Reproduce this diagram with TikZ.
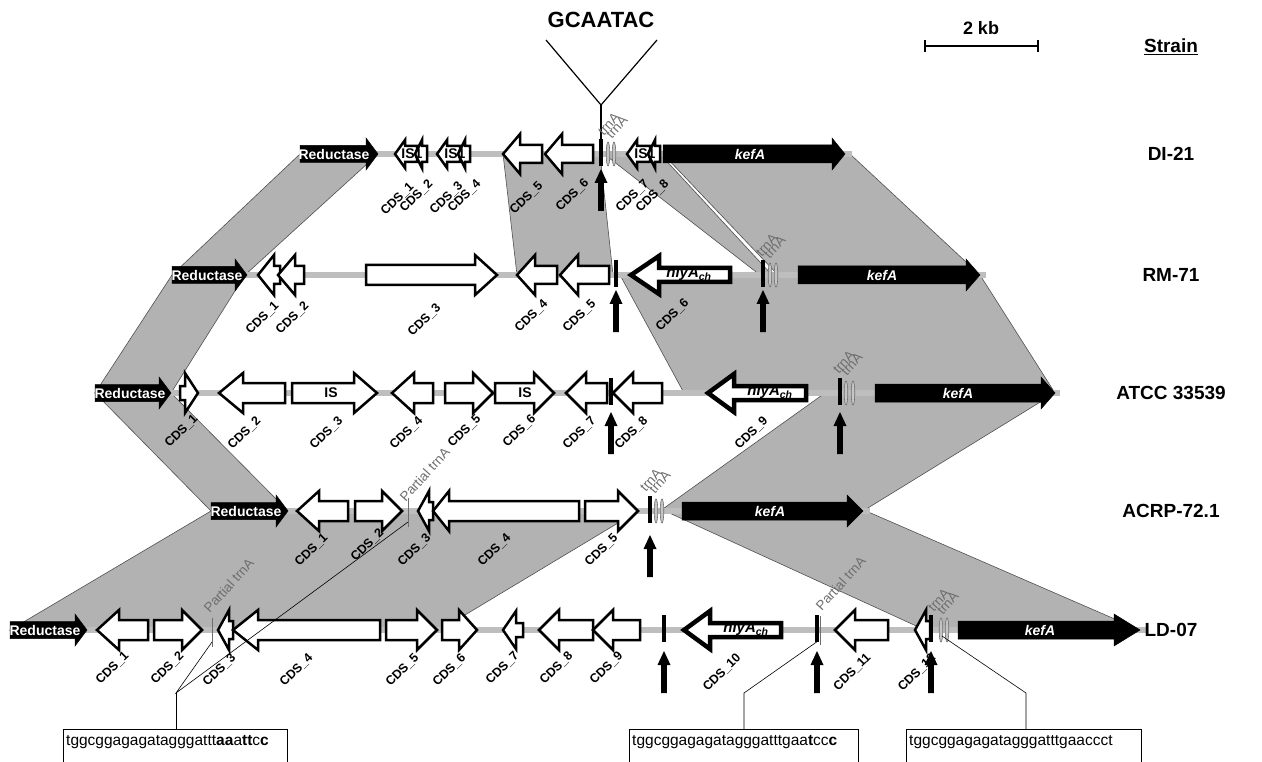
\documentclass[tikz,border=0pt]{standalone}
\usepackage{fontspec}
\setmainfont{Liberation Sans}
\definecolor{bandgray}{RGB}{178,178,178}
\definecolor{bbgray}{RGB}{190,190,190}
\definecolor{edgegray}{RGB}{80,80,80}
\definecolor{trnagray}{RGB}{110,110,110}
% gene arrow: style, tail x, tip x, row y, head length, body half height, head half height
\newcommand\gene[7]{%
  \pgfmathsetmacro\hb{#3-#5*sign(#3-#2)}%
  \draw[#1] (#2,#4-#6) -- (\hb,#4-#6) -- (\hb,#4-#7) -- (#3,#4) -- (\hb,#4+#7)
    -- (\hb,#4+#6) -- (#2,#4+#6) -- cycle;}
% insertion site bar and the arrow pointing at it
\newcommand\site[2]{\fill (#1-2.2,#2-15) rectangle (#1+2.2,#2+12);}
\newcommand\uparr[2]{\fill (#1,#2) -- (#1+6.5,#2+14) -- (#1+2.8,#2+14) -- (#1+2.8,#2+42)
    -- (#1-2.8,#2+42) -- (#1-2.8,#2+14) -- (#1-6.5,#2+14) -- cycle;}
\newcommand\trna[2]{\draw[trnashape] (#1,#2) ellipse [x radius=1.8, y radius=12];}
\newcommand\cds[3]{\node[cdslab] at (#1,#2) {CDS\_#3};}
\newcommand\trnalab[2]{\node[graylab] at (#1,#2) {trnA};}
\begin{document}
\begin{tikzpicture}[x=1pt,y=-1pt,
  wg/.style={draw=black,line width=2.5,fill=white,line join=miter},
  bg/.style={draw=black,line width=0.5,fill=black},
  hg/.style={draw=black,line width=4.5,fill=white,line join=miter},
  band/.style={fill=bandgray,draw=edgegray,line width=0.6},
  backbone/.style={draw=bbgray,line width=6},
  trnashape/.style={draw=trnagray,fill=trnagray!40,line width=0.6},
  cdslab/.style={rotate=45,anchor=north east,inner sep=0,font=\bfseries\fontsize{12.5}{13}\selectfont},
  graylab/.style={rotate=48,anchor=south west,inner sep=0,text=trnagray,font=\fontsize{13.5}{14}\selectfont},
  whitelab/.style={text=white,font=\bfseries\fontsize{14}{15}\selectfont,inner sep=0},
  islab/.style={font=\bfseries\fontsize{14}{15}\selectfont,inner sep=0},
  hlylab/.style={font=\bfseries\itshape\fontsize{15}{16}\selectfont,inner sep=0},
  strain/.style={font=\bfseries\fontsize{19}{20}\selectfont,inner sep=0},
  seqbox/.style={draw=black,line width=0.6},
  seqtext/.style={anchor=west,inner sep=0,font=\fontsize{15.5}{16}\selectfont},
  thin/.style={draw=black,line width=0.6}]
\useasboundingbox (0,0) rectangle (1262,762);
\clip (0,0) rectangle (1262,762);

% ---------- synteny bands ----------
\draw[band] (300,154) -- (378,154) -- (245,275) -- (172,275) -- cycle;
\draw[band] (172,275) -- (245,275) -- (171,393) -- (95,393) -- cycle;
\draw[band] (95,393) -- (171,393) -- (288,511) -- (211,511) -- cycle;
\draw[band] (211,511) -- (638,511) -- (440,630) -- (10,630) -- cycle;
\draw[band] (503,154) -- (600,154) -- (613,275) -- (517,275) -- cycle;
\draw[band] (604,154) -- (660,154) -- (772,275) -- (760,275) -- cycle;
\draw[band] (663,154) -- (850,154) -- (980,275) -- (778,275) -- cycle;
\draw[band] (620,275) -- (980,275) -- (1055,393) -- (684,393) -- cycle;
\draw[band] (825,393) -- (1055,393) -- (863,511) -- (660,511) -- cycle;
\draw[band] (665,511) -- (866,511) -- (1140,630) -- (925,630) -- cycle;

% ---------- backbones ----------
\draw[backbone] (300,154) -- (852,154);
\draw[backbone] (172,275) -- (986,275);
\draw[backbone] (95,393) -- (1060,393);
\draw[backbone] (211,511) -- (870,511);
\draw[backbone] (10,630) -- (1146,630);

% ---------- insertion in DI-21 ----------
\node[font=\bfseries\fontsize{22}{24}\selectfont,inner sep=0] (ins) at (601,20) {GCAATAC};
\coordinate (vtx) at (601,105);
\draw[thin,line width=1.2] (546,40) -- (vtx) -- (657,40);
\draw[thin,line width=1.2] (vtx) -- (601,140);

% ---------- scale bar and header ----------
\node[font=\bfseries\fontsize{18}{20}\selectfont,inner sep=0] (kb) at (981,28) {2 kb};
\draw[line width=1.5] (925,46) -- (1038,46) (925,40) -- (925,52) (1038,40) -- (1038,52);
\node[strain] (hdr) at (1171,47) {\underline{Strain}};

% ---------- row DI-21 ----------
\gene{bg}{300}{378}{154}{12}{8.5}{16}
\gene{wg}{417}{395}{154}{10}{8}{14}
\gene{wg}{427}{415}{154}{7}{8}{14}
\gene{wg}{460}{437}{154}{10}{8}{14}
\gene{wg}{470}{458}{154}{7}{8}{14}
\gene{wg}{542}{503}{154}{17}{9}{20}
\gene{wg}{593}{545}{154}{17}{9}{20}
\gene{wg}{650}{627}{154}{10}{8}{14}
\gene{wg}{660}{648}{154}{7}{8}{14}
\gene{bg}{663}{845}{154}{13}{9}{16}
\site{601}{154} \uparr{601}{169}
\trna{608}{154} \trna{614}{154}
\trnalab{604}{137} \trnalab{612}{140}
\node[whitelab] at (334,154) {Reductase};
\node[whitelab,font=\bfseries\itshape\fontsize{14}{15}\selectfont] at (750,154) {kefA};
\node[islab] at (412,154) {IS1};
\node[islab] at (455,154) {IS1};
\node[islab] at (645,154) {IS1};
\cds{408}{181}{1} \cds{427}{178}{2} \cds{457}{180}{3} \cds{475}{178}{4}
\cds{537}{180}{5} \cds{583}{177}{6} \cds{643}{178}{7} \cds{663}{178}{8}
\node[strain] at (1171,154) {DI-21};

% ---------- row RM-71 ----------
\gene{bg}{172}{247}{275}{12}{8.5}{16}
\gene{wg}{280}{258}{275}{16}{9}{20}
\gene{wg}{304}{278}{275}{17}{9}{20}
\gene{wg}{366}{497}{275}{22}{10}{20}
\gene{wg}{557}{517}{275}{18}{9}{20}
\gene{wg}{609}{560}{275}{18}{9}{20}
\gene{hg}{730}{631}{275}{28}{7}{19}
\gene{bg}{798}{980}{275}{14}{9}{16}
\site{616}{275} \uparr{616}{290}
\site{763}{275} \uparr{763}{290}
\trna{770}{275} \trna{776}{275}
\trnalab{762}{258} \trnalab{770}{260}
\node[whitelab] at (207,275) {Reductase};
\node[hlylab] at (689,274) {hlyA\textsubscript{ch}};
\node[whitelab,font=\bfseries\itshape\fontsize{14}{15}\selectfont] at (882,275) {kefA};
\cds{273}{300}{1} \cds{303}{300}{2} \cds{435}{302}{3} \cds{542}{298}{4}
\cds{590}{298}{5} \cds{683}{297}{6}
\node[strain] at (1171,275) {RM-71};

% ---------- row ATCC 33539 ----------
\gene{bg}{95}{171}{393}{12}{8.5}{16}
\gene{wg}{180}{198}{393}{13}{7}{20}
\gene{wg}{285}{219}{393}{24}{10}{20}
\gene{wg}{292}{377}{393}{23}{10}{20}
\gene{wg}{433}{392}{393}{22}{10}{20}
\gene{wg}{445}{493}{393}{20}{10}{20}
\gene{wg}{495}{554}{393}{20}{10}{20}
\gene{wg}{607}{566}{393}{20}{10}{20}
\gene{wg}{662}{613}{393}{20}{10}{20}
\gene{hg}{806}{708}{393}{26}{7}{19}
\gene{bg}{875}{1055}{393}{14}{9}{16}
\site{611}{393} \uparr{611}{412}
\site{840}{393} \uparr{840}{412}
\trna{846}{393} \trna{853}{393}
\trnalab{839}{375} \trnalab{847}{377}
\node[whitelab] at (130,393) {Reductase};
\node[islab] at (331,393) {IS};
\node[islab] at (525,393) {IS};
\node[hlylab] at (770,392) {hlyA\textsubscript{ch}};
\node[whitelab,font=\bfseries\itshape\fontsize{14}{15}\selectfont] at (958,393) {kefA};
\cds{192}{413}{1} \cds{255}{415}{2} \cds{337}{415}{3} \cds{417}{415}{4}
\cds{475}{413}{5} \cds{530}{413}{6} \cds{590}{415}{7} \cds{642}{415}{8}
\cds{762}{415}{9}
\node[strain] at (1171,393) {ATCC 33539};

% ---------- row ACRP-72.1 ----------
\gene{bg}{211}{288}{511}{12}{8.5}{16}
\gene{wg}{348}{297}{511}{22}{10}{20}
\gene{wg}{355}{402}{511}{20}{10}{20}
\gene{wg}{433}{418}{511}{11}{9}{20}
\gene{wg}{579}{433}{511}{16}{10}{20}
\gene{wg}{585}{638}{511}{20}{10}{20}
\gene{bg}{682}{863}{511}{16}{9}{16}
\draw[trnagray,line width=0.8] (408,498) -- (408,527);
\site{650}{511} \uparr{650}{535}
\trna{656}{511} \trna{662}{511}
\trnalab{646}{493} \trnalab{655}{495}
\node[graylab] at (406,503) {Partial trnA};
\node[whitelab] at (246,511) {Reductase};
\node[whitelab,font=\bfseries\itshape\fontsize{14}{15}\selectfont] at (770,511) {kefA};
\cds{322}{532}{1} \cds{378}{527}{2} \cds{425}{532}{3} \cds{505}{532}{4}
\cds{612}{532}{5}
\node[strain] at (1171,511) {ACRP-72.1};

% ---------- row LD-07 ----------
\gene{bg}{10}{87}{630}{12}{8.5}{16}
\gene{wg}{148}{97}{630}{22}{10}{20}
\gene{wg}{154}{202}{630}{20}{10}{20}
\gene{wg}{233}{218}{630}{11}{9}{20}
\gene{wg}{380}{233}{630}{25}{10}{20}
\gene{wg}{386}{437}{630}{20}{10}{20}
\gene{wg}{442}{477}{630}{18}{10}{20}
\gene{wg}{523}{503}{630}{13}{7}{19}
\gene{wg}{593}{539}{630}{20}{10}{20}
\gene{wg}{640}{593}{630}{20}{10}{20}
\gene{hg}{781}{684}{630}{26}{7}{19}
\gene{wg}{888}{835}{630}{20}{10}{20}
\gene{wg}{930}{915}{630}{11}{9}{20}
\gene{bg}{958}{1140}{630}{26}{9}{16}
\draw[trnagray,line width=0.8] (212,618) -- (212,647);
\draw[trnagray,line width=0.8] (820,616) -- (820,645);
\site{664}{630} \uparr{664}{651}
\site{817}{630} \uparr{817}{651}
\site{931}{630} \uparr{931}{651}
\trna{941}{630} \trna{947}{630}
\trnalab{934}{613} \trnalab{943}{616}
\node[graylab] at (210,614) {Partial trnA};
\node[graylab] at (822,612) {Partial trnA};
\node[whitelab] at (45,630) {Reductase};
\node[hlylab] at (746,629) {hlyA\textsubscript{ch}};
\node[whitelab,font=\bfseries\itshape\fontsize{14}{15}\selectfont] at (1040,630) {kefA};
\cds{123}{650}{1} \cds{178}{650}{2} \cds{230}{652}{3} \cds{307}{652}{4}
\cds{413}{652}{5} \cds{460}{652}{6} \cds{513}{650}{7} \cds{567}{650}{8}
\cds{617}{650}{9} \cds{735}{652}{10} \cds{865}{652}{11} \cds{930}{652}{12}
\node[strain] at (1171,630) {LD-07};

% ---------- sequences at the insertion sites ----------
\coordinate (j1) at (176,693);
\coordinate (j2) at (744,693);
\coordinate (j3) at (1026,693);
\draw[thin] (408,522) -- (j1) -- (212,642);
\draw[thin] (j1) -- (176,729);
\draw[thin] (818,641) -- (j2) -- (744,729);
\draw[thin] (942,636) -- (j3) -- (1026,729);
\draw[seqbox] (63,729) rectangle (287,780);
\draw[seqbox] (629,729) rectangle (858,780);
\draw[seqbox] (906,729) rectangle (1141,780);
\node[seqtext] (s1) at (66,742) {tggcggagagatagggattt\textbf{aa}a\textbf{tt}c\textbf{c}};
\node[seqtext] (s2) at (632,742) {tggcggagagatagggatttgaa\textbf{t}cc\textbf{c}};
\node[seqtext] (s3) at (909,742) {tggcggagagatagggatttgaaccct};
\end{tikzpicture}
\end{document}
